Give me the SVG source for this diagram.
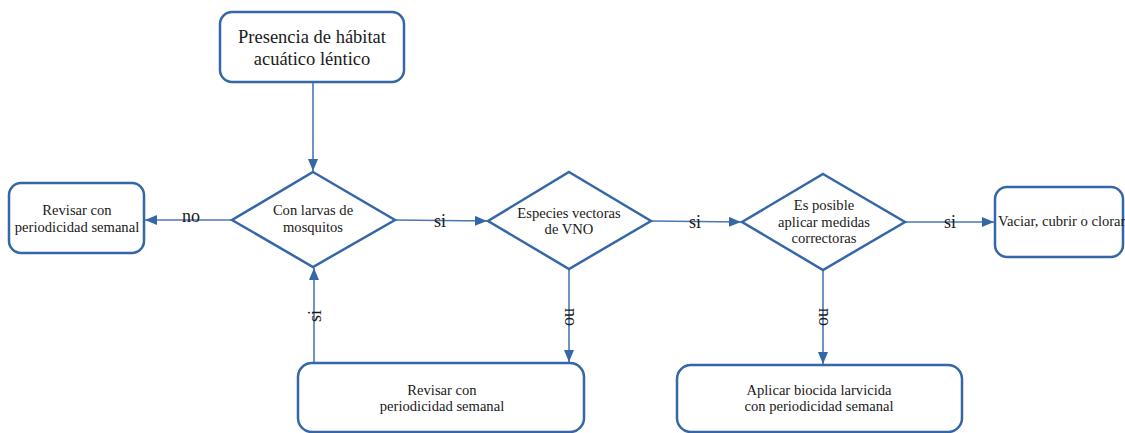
<svg xmlns="http://www.w3.org/2000/svg" width="1125" height="433" viewBox="0 0 1125 433">
<style>
.box{fill:#fff;stroke:#3566a6;stroke-width:2.5}
.dia{fill:#fff;stroke:#3566a6;stroke-width:2.5}
.t{font-family:"Liberation Serif","Times New Roman",serif;fill:#1a1a1a;text-anchor:middle}
.s{font-size:14.6px}
.big{font-size:18.5px}
.lbl{font-family:"Liberation Serif","Times New Roman",serif;font-size:18px;fill:#1a1a1a;text-anchor:middle}
.c{fill:none;stroke:#4a78b3;stroke-width:1.6}
</style>
<defs>
<marker id="arr" viewBox="0 0 12 10" refX="12" refY="5" markerWidth="12" markerHeight="10" markerUnits="userSpaceOnUse" orient="auto">
<path d="M0,0 L12,5 L0,10 Z" fill="#3566a6"/>
</marker>
</defs>
<g id="connectors">
<line class="c" x1="313" y1="82" x2="313" y2="171" marker-end="url(#arr)"/>
<line class="c" x1="232" y1="220" x2="145" y2="220" marker-end="url(#arr)"/>
<line class="c" x1="395" y1="220" x2="487" y2="221" marker-end="url(#arr)"/>
<line class="c" x1="651" y1="221" x2="741" y2="222" marker-end="url(#arr)"/>
<line class="c" x1="905" y1="222" x2="994" y2="222" marker-end="url(#arr)"/>
<line class="c" x1="314" y1="363" x2="314" y2="268" marker-end="url(#arr)"/>
<line class="c" x1="569" y1="269" x2="569" y2="362" marker-end="url(#arr)"/>
<line class="c" x1="823" y1="270" x2="823" y2="364" marker-end="url(#arr)"/>
<text class="lbl" x="191" y="222">no</text>
<text class="lbl" x="440" y="227">si</text>
<text class="lbl" x="695" y="228">si</text>
<text class="lbl" x="950" y="228">si</text>
<text class="lbl" transform="translate(321,316) rotate(-90)">si</text>
<text class="lbl" transform="translate(565,317) rotate(90)">no</text>
<text class="lbl" transform="translate(819,317) rotate(90)">no</text>
</g>
<g id="n_presencia">
<rect class="box" x="220" y="12" width="184" height="70" rx="12"/>
<text class="t big" x="312" y="43">Presencia de hábitat</text>
<text class="t big" x="312" y="65">acuático léntico</text>
</g>
<g id="n_larvas">
<polygon class="dia" points="313,172 395,220 313,267 232,220"/>
<text class="t s" x="313" y="215">Con larvas de</text>
<text class="t s" x="313" y="232">mosquitos</text>
</g>
<g id="n_revisar1">
<rect class="box" x="9" y="183" width="135" height="70" rx="12"/>
<text class="t s" x="77" y="215">Revisar con</text>
<text class="t s" x="77" y="232">periodicidad semanal</text>
</g>
<g id="n_especies">
<polygon class="dia" points="569,172 651,221 569,269 488,221"/>
<text class="t s" x="569" y="218">Especies vectoras</text>
<text class="t s" x="569" y="234">de VNO</text>
</g>
<g id="n_posible">
<polygon class="dia" points="823,174 905,222 823,270 742,222"/>
<text class="t s" x="824" y="210">Es posible</text>
<text class="t s" x="824" y="227">aplicar medidas</text>
<text class="t s" x="824" y="243">correctoras</text>
</g>
<g id="n_vaciar">
<rect class="box" x="995" y="187" width="128" height="70" rx="12"/>
<text class="t s" x="998" y="226" style="text-anchor:start">Vaciar, cubrir o clorar</text>
</g>
<g id="n_revisar2">
<rect class="box" x="298" y="363" width="286" height="69" rx="14"/>
<text class="t s" x="442" y="395">Revisar con</text>
<text class="t s" x="442" y="411">periodicidad semanal</text>
</g>
<g id="n_biocida">
<rect class="box" x="677" y="365" width="285" height="67" rx="14"/>
<text class="t s" x="819" y="395">Aplicar biocida larvicida</text>
<text class="t s" x="819" y="411">con periodicidad semanal</text>
</g>
</svg>
